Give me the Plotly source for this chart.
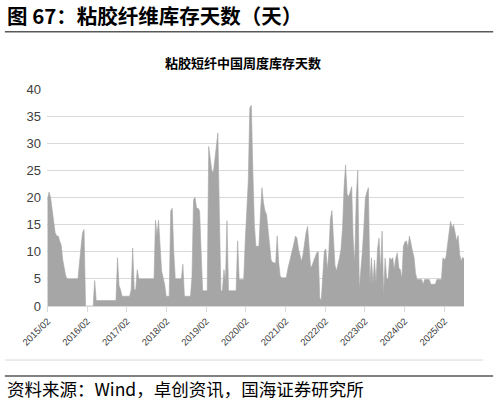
import pandas as pd
import plotly.graph_objs as go

# weekly stock days (read every two weeks), one list per year starting in Feb
days_2015 = [19.6, 21, 20, 17.5, 15.5, 13.5, 12.9, 12.9, 12, 11.2, 8.5, 7, 5.5,
             5, 5, 5, 5, 5, 5, 5, 5, 8, 11, 13.5, 14.1, 0]
days_2016 = [0, 0, 0, 0, 0, 4.7, 1, 1, 1, 1, 1, 1, 1, 1, 1, 1, 1, 1, 1, 1,
             8.9, 3.8, 3, 1.8, 1.8, 1.8]
days_2017 = [1.8, 1.8, 1.8, 3, 10.7, 3, 3, 6.7, 5, 5, 5, 5, 5, 5, 5, 5, 5, 5,
             5, 15.8, 13, 15.8, 10, 6.5, 5.2, 4]
days_2018 = [1.8, 1.8, 1.8, 17.5, 18, 10, 5, 5, 5, 5, 5, 7.7, 1.8, 1.8, 1.8,
             1.8, 1.8, 5.5, 19.6, 20, 18, 18, 17.5, 10, 2.8, 2.8]
days_2019 = [2.8, 2.8, 29.4, 27, 25, 24.5, 27, 29.5, 31.9, 17, 2.8, 2.8, 6.7,
             4.5, 15.7, 2.8, 2.8, 2.8, 2.8, 2.8, 2.8, 12, 4.9, 4.9, 4.9, 4.9]
days_2020 = [12, 17.2, 23, 36.5, 37, 25, 15, 11, 11, 11, 17, 21.8, 19, 17.5,
             16.9, 14, 10.5, 8.5, 8, 8, 7.8, 12.9, 8, 5.5, 5.2, 5.2]
days_2021 = [5.2, 5.2, 6.8, 8, 8.8, 9.8, 11.5, 12.9, 12.5, 10.5, 9.5, 8.2, 9.5,
             11.6, 13.5, 14.7, 11, 7, 7.5, 8.3, 9, 9.8, 10, 1.5, 1, 6.4]
days_2022 = [10.1, 10.5, 6.7, 10, 16, 17.6, 11, 7.5, 6.5, 7.5, 8.9, 10.5, 14.4,
             22, 26, 20.6, 20.2, 21, 22, 12, 8, 20, 25, 3.1, 6, 10]
days_2023 = [14.4, 19.9, 21, 21.8, 4, 8.9, 4, 8.5, 4.2, 10.5, 12.5, 6.5, 13.8,
             2, 8.8, 5, 5, 8.9, 8.5, 8.9, 6.7, 8.8, 9.8, 7, 6.7, 5]
days_2024 = [11, 11.8, 12, 10.8, 12.9, 11.3, 10.1, 9, 6, 4.9, 4.9, 4.9, 4.9,
             4, 4.9, 4.9, 4.9, 4.9, 4, 4, 4, 4, 4.9, 4.9, 4.9, 4.9]
days_2025 = [8.9, 8.5, 9, 11, 13.6, 15.6, 14.4, 15, 13.5, 12, 13, 9.5, 8.3,
             9, 8.6]

tick_labels = ["2015/02", "2016/02", "2017/02", "2018/02", "2019/02", "2020/02",
               "2021/02", "2022/02", "2023/02", "2024/02", "2025/02"]

fig_title = "图 67：粘胶纤维库存天数（天）"
chart_title = "粘胶短纤中国周度库存天数"
source_text = "资料来源：Wind，卓创资讯，国海证券研究所"

values = (days_2015 + days_2016 + days_2017 + days_2018 + days_2019 + days_2020
          + days_2021 + days_2022 + days_2023 + days_2024 + days_2025)
dates = pd.date_range("2015-02-06", periods=len(values), freq="14D")
tick_pos = [lab.replace("/", "-") + "-06" for lab in tick_labels]

CJK = "Noto Sans CJK SC"

area = go.Scatter(
    x=dates, y=values, mode="lines", fill="tozeroy",
    line=dict(color="#a6a6a6", width=0.6), fillcolor="#a6a6a6",
    hoverinfo="x+y", showlegend=False
)

fig = go.Figure(data=[area])
fig.update_layout(
    width=498, height=403,
    margin=dict(l=47, r=34, t=89, b=97),
    paper_bgcolor="white", plot_bgcolor="white",
    font=dict(family="Liberation Sans, Arial", color="#404040"),
    xaxis=dict(
        range=["2015-02-01", "2025-08-06"],
        tickvals=tick_pos, ticktext=tick_labels, tickangle=-45,
        tickfont=dict(size=9.5, color="#404040"),
        showgrid=False, showline=True, linecolor="#d9d9d9", linewidth=1,
        ticks="outside", tickcolor="#d9d9d9", ticklen=5, zeroline=False
    ),
    yaxis=dict(
        range=[0, 40], tickvals=list(range(0, 41, 5)),
        tickfont=dict(size=13, color="#404040"), ticklabelstandoff=5,
        showgrid=True, gridcolor="#d9d9d9", gridwidth=1,
        zeroline=False, showline=False, ticks=""
    ),
)

# header rule, chart frame bottom, source rule
fig.add_shape(type="line", xref="paper", yref="paper", x0=-0.101, x1=1.07,
              y0=1.264, y1=1.264, line=dict(color="#595959", width=1.5))
fig.add_shape(type="line", xref="paper", yref="paper", x0=-0.101, x1=1.046,
              y0=-0.249, y1=-0.249, line=dict(color="#d9d9d9", width=1))
fig.add_shape(type="line", xref="paper", yref="paper", x0=-0.101, x1=1.07,
              y0=-0.323, y1=-0.323, line=dict(color="#595959", width=1.5))

fig.add_annotation(text="<b>" + fig_title + "</b>", xref="paper", yref="paper",
                   x=-0.101, y=1.341, xanchor="left", yanchor="middle",
                   showarrow=False, font=dict(family=CJK, size=20.5, color="black"))
fig.add_annotation(text="<b>" + chart_title + "</b>", xref="paper", yref="paper",
                   x=0.47, y=1.124, xanchor="center", yanchor="middle",
                   showarrow=False, font=dict(family=CJK, size=13, color="black"))
fig.add_annotation(text=source_text, xref="paper", yref="paper",
                   x=-0.101, y=-0.382, xanchor="left", yanchor="middle",
                   showarrow=False, font=dict(family=CJK, size=17.5, color="black"))

# page body has a default 8px margin; drop it so the figure sits at the corner
fig.write_html("out.html", config={"displayModeBar": False},
               post_script="document.body.style.margin='0';")
